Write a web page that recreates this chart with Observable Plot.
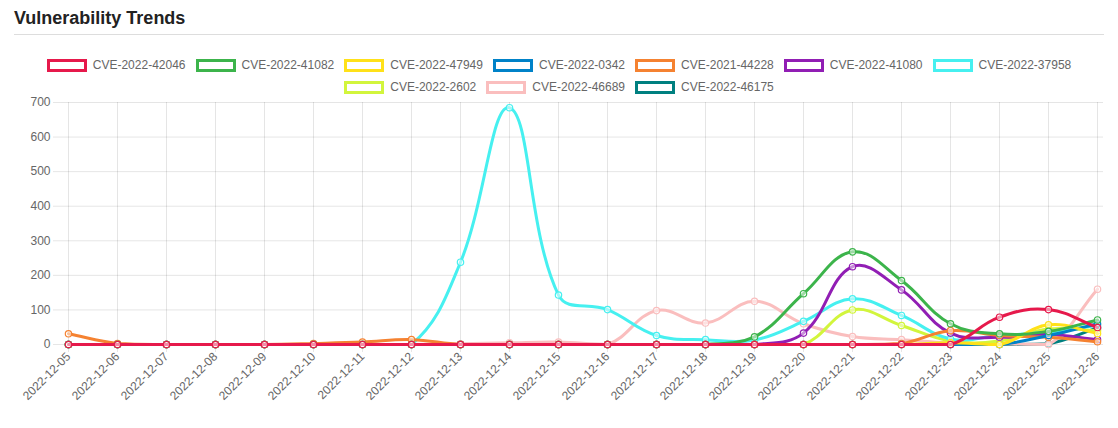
<!DOCTYPE html>
<html>
<head>
<meta charset="utf-8">
<script src="https://cdn.jsdelivr.net/npm/d3@7"></script>
<script src="https://cdn.jsdelivr.net/npm/@observablehq/plot@0.6"></script>
<style>
  html, body { margin: 0; padding: 0; background: #fff; }
  body { width: 1118px; height: 428px; position: relative; overflow: hidden; font-family: "Liberation Sans", Arial, Helvetica, sans-serif; }
  #title { position: absolute; left: 14px; top: 8px; font-size: 18px; font-weight: bold; color: #222; }
  #rule { position: absolute; left: 14px; top: 34px; width: 1090px; height: 1px; background: #ddd; }
  #legend { position: absolute; left: 14px; top: 57px; width: 1090px; display: flex; flex-wrap: wrap; justify-content: center; column-gap: 10px; row-gap: 6px; }
  .item { display: flex; align-items: center; height: 16px; font-size: 12px; color: #666; }
  .box { width: 40px; height: 13px; box-sizing: border-box; border: 3px solid; background: #fff; margin-right: 6px; }
  #chart { position: absolute; left: 0; top: 95px; }
</style>
</head>
<body>
<div id="title">Vulnerability Trends</div>
<div id="rule"></div>
<div id="legend"></div>
<div id="chart"></div>
<script>
const dates = ["2022-12-05","2022-12-06","2022-12-07","2022-12-08","2022-12-09","2022-12-10","2022-12-11","2022-12-12","2022-12-13","2022-12-14","2022-12-15","2022-12-16","2022-12-17","2022-12-18","2022-12-19","2022-12-20","2022-12-21","2022-12-22","2022-12-23","2022-12-24","2022-12-25","2022-12-26"];
const seriesNames = ["CVE-2022-42046","CVE-2022-41082","CVE-2022-47949","CVE-2022-0342","CVE-2021-44228","CVE-2022-41080","CVE-2022-37958","CVE-2022-2602","CVE-2022-46689","CVE-2022-46175"];
const seriesColors = ["#e6194b","#3cb44b","#ffe119","#0082c8","#f58231","#911eb4","#46f0f0","#d2f53c","#fabebe","#008080"];
const cve42046 = [0,0,0,0,0,0,0,0,0,0,0,0,0,0,0,0,0,0,0,79,101,49];
const cve41082 = [0,0,0,0,0,0,0,0,0,0,0,0,0,0,22,147,268,185,60,31,38,71];
const cve47949 = [0,0,0,0,0,0,0,0,0,0,0,0,0,0,0,0,0,0,5,0,57,32];
const cve0342  = [0,0,0,0,0,0,0,0,0,0,0,0,0,0,0,0,0,0,0,0,26,60];
const cve44228 = [31,3,0,0,0,3,7,14,0,0,0,0,0,0,0,0,0,3,40,26,21,8];
const cve41080 = [0,0,0,0,0,0,0,0,0,0,0,0,0,0,0,33,225,158,33,21,29,14];
const cve37958 = [0,0,0,0,0,0,0,0,238,685,143,101,26,14,13,67,132,84,16,26,36,55];
const cve2602  = [0,0,0,0,0,0,0,0,0,0,0,0,0,0,0,0,100,55,10,10,45,40];
const cve46689 = [0,0,0,0,0,0,0,0,2,5,7,0,98,62,125,60,23,14,5,2,0,160];
const cve46175 = [0,0,0,0,0,0,0,0,0,0,0,0,0,0,0,0,0,0,0,0,2,48];
const yTicks = [0,100,200,300,400,500,600,700];

const seriesValues = [cve42046,cve41082,cve47949,cve0342,cve44228,cve41080,cve37958,cve2602,cve46689,cve46175];

const W = 1118, H = 333, MT = 7, MB = 84, ML = 61, MR = 15;

// Chart.js-style bezier spline (tension 0.4, capped to chart area)
function chartjsCurve(context) {
  let pts;
  const top = MT, bottom = H - MB, left = ML, right = W - MR;
  const cy = v => Math.max(top, Math.min(bottom, v));
  const cx = v => Math.max(left, Math.min(right, v));
  return {
    areaStart() {}, areaEnd() {},
    lineStart() { pts = []; },
    point(x, y) { pts.push({x: +x, y: +y}); },
    lineEnd() {
      const n = pts.length;
      if (!n) return;
      const t = 0.4;
      const cps = pts.map((p, i) => {
        const prev = pts[i - 1] || p, next = pts[i + 1] || p;
        const d01 = Math.hypot(p.x - prev.x, p.y - prev.y);
        const d12 = Math.hypot(next.x - p.x, next.y - p.y);
        let s01 = d01 / (d01 + d12), s12 = d12 / (d01 + d12);
        if (isNaN(s01)) s01 = 0;
        if (isNaN(s12)) s12 = 0;
        const fa = t * s01, fb = t * s12;
        return {
          px: cx(p.x - fa * (next.x - prev.x)), py: cy(p.y - fa * (next.y - prev.y)),
          nx: cx(p.x + fb * (next.x - prev.x)), ny: cy(p.y + fb * (next.y - prev.y))
        };
      });
      context.moveTo(pts[0].x, pts[0].y);
      for (let i = 1; i < n; i++) {
        context.bezierCurveTo(cps[i - 1].nx, cps[i - 1].ny, cps[i].px, cps[i].py, pts[i].x, pts[i].y);
      }
    }
  };
}

// legend
const legend = document.getElementById("legend");
seriesNames.forEach((name, i) => {
  const it = document.createElement("div");
  it.className = "item";
  const b = document.createElement("span");
  b.className = "box";
  b.style.borderColor = seriesColors[i];
  it.appendChild(b);
  it.appendChild(document.createTextNode(name));
  legend.appendChild(it);
});

const rows = [];
seriesNames.forEach((name, i) => {
  dates.forEach((d, j) => rows.push({series: name, date: d, value: seriesValues[i][j]}));
});

const marks = [
  Plot.gridX({stroke: "#000", strokeOpacity: 0.1}),
  Plot.gridY(yTicks, {stroke: "#000", strokeOpacity: 0.1}),
  Plot.axisY(yTicks, {tickSize: 8, tickPadding: 3, stroke: "#e6e6e6", fill: "#666", fontSize: 12, label: null}),
  Plot.axisX({tickSize: 8, tickPadding: 2, tickRotate: -45, stroke: "#e6e6e6", fill: "#666", fontSize: 12, label: null})
];
for (let i = seriesNames.length - 1; i >= 0; i--) {
  const name = seriesNames[i];
  const data = rows.filter(r => r.series === name);
  marks.push(Plot.line(data, {x: "date", y: "value", stroke: "series", strokeWidth: 3, curve: chartjsCurve}));
  marks.push(Plot.dot(data, {x: "date", y: "value", stroke: "series", fill: "#fff", fillOpacity: 0.5, r: 3.2, strokeWidth: 1.2}));
}

const chart = Plot.plot({
  width: W, height: H,
  marginTop: MT, marginBottom: MB, marginLeft: ML, marginRight: MR,
  style: {fontFamily: "'Liberation Sans', Arial, Helvetica, sans-serif", fontSize: "12px", background: "#fff"},
  x: {type: "point", domain: dates, padding: 0, label: null},
  y: {domain: [0, 700], label: null},
  color: {domain: seriesNames, range: seriesColors},
  marks
});
document.getElementById("chart").appendChild(chart);
</script>
</body>
</html>
